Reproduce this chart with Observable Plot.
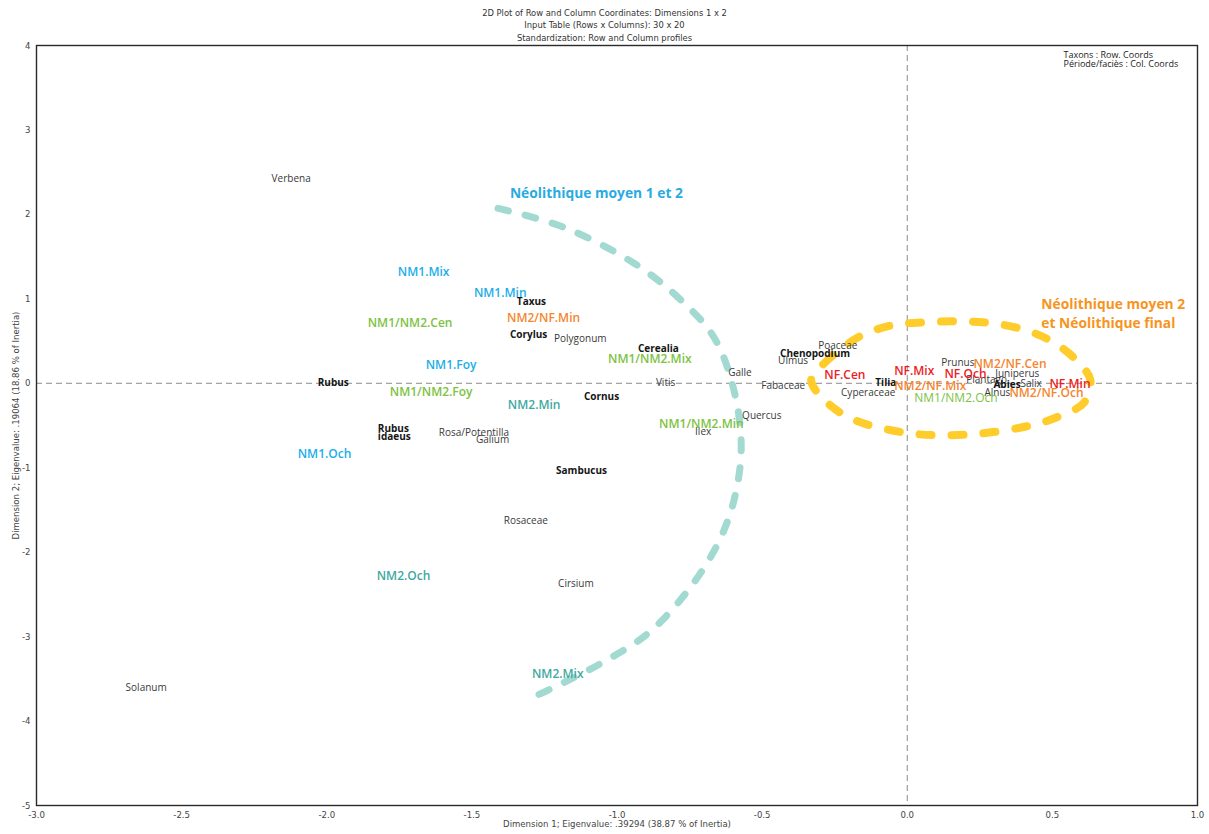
<!DOCTYPE html>
<html>
<head>
<meta charset="utf-8">
<script src="https://cdn.jsdelivr.net/npm/d3@7"></script>
<script src="https://cdn.jsdelivr.net/npm/@observablehq/plot@0.6"></script>
<style>
  html, body { margin: 0; padding: 0; background: #fff; }
  #title { position: relative; z-index: 2; height: 40px; padding-top: 6.5px; box-sizing: border-box;
    text-align: center; font-family: "Liberation Sans Narrow", "DejaVu Sans Condensed", sans-serif;
    font-size: 9.3px; line-height: 12.5px; color: #333; }
  #chart { position: relative; z-index: 1; }
</style>
</head>
<body>
<div id="title">
  <div>2D Plot of Row and Column Coordinates: Dimensions 1 x 2</div>
  <div>Input Table (Rows x Columns): 30 x 20</div>
  <div>Standardization: Row and Column profiles</div>
</div>
<div id="chart"></div>
<script>
// ---- Column coordinates (Période/faciès) ----
const colLabels = ["NM1.Mix","NM1.Min","NM1.Foy","NM1.Och",
  "NM1/NM2.Cen","NM1/NM2.Mix","NM1/NM2.Foy","NM1/NM2.Min","NM1/NM2.Och",
  "NM2.Min","NM2.Och","NM2.Mix",
  "NM2/NF.Min","NM2/NF.Cen","NM2/NF.Mix","NM2/NF.Och",
  "NF.Cen","NF.Mix","NF.Och","NF.Min"];
const colGroups = ["NM1","NM1","NM1","NM1",
  "NM1/NM2","NM1/NM2","NM1/NM2","NM1/NM2","NM1/NM2",
  "NM2","NM2","NM2",
  "NM2/NF","NM2/NF","NM2/NF","NM2/NF",
  "NF","NF","NF","NF"];
const colDim1 = [-1.755,-1.493,-1.659,-2.100,
  -1.859,-1.031,-1.783,-0.855,0.024,
  -1.376,-1.828,-1.293,
  -1.379,0.228,-0.045,0.352,
  -0.286,-0.045,0.128,0.490];
const colDim2 = [1.315,1.066,0.213,-0.841,
  0.711,0.284,-0.107,-0.486,-0.178,
  -0.261,-2.286,-3.446,
  0.770,0.225,-0.036,-0.118,
  0.095,0.142,0.107,-0.012];
const lightCols = ["NM1/NM2.Och"];

// ---- Row coordinates (Taxons) ----
const rowLabels = ["Taxus","Corylus","Cerealia","Rubus","Cornus","Rubus\nidaeus","Sambucus","Chenopodium","Tilia","Abies",
  "Verbena","Polygonum","Vitis","Galle","Quercus","Ilex","Rosa/Potentilla","Galium","Rosaceae","Cirsium",
  "Solanum","Poaceae","Ulmus","Fabaceae","Cyperaceae","Prunus","Plantago","Juniperus","Salix","Alnus"];
const rowDim1 = [-1.345,-1.369,-0.928,-2.031,-1.114,-1.824,-1.210,-0.438,-0.110,0.297,
  -2.190,-1.217,-0.866,-0.617,-0.569,-0.731,-1.614,-1.486,-1.390,-1.203,
  -2.693,-0.307,-0.445,-0.503,-0.228,0.117,0.203,0.303,0.390,0.266];
const rowDim2 = [0.959,0.568,0.403,0.000,-0.166,-0.598,-1.042,0.343,0.000,-0.024,
  2.416,0.521,0.000,0.130,-0.391,-0.580,-0.592,-0.675,-1.634,-2.369,
  -3.612,0.438,0.272,-0.024,-0.118,0.237,0.036,0.107,-0.012,-0.118];
const boldTaxa = ["Taxus","Corylus","Cerealia","Rubus","Cornus","Rubus\nidaeus","Sambucus","Chenopodium","Tilia","Abies"];

// ---- Group outlines (hand-drawn annotations) ----
const arcDim1 = [-1.410,-1.183,-0.941,-0.790,-0.666,-0.597,-0.572,-0.597,-0.652,-0.755,-0.893,-1.055,-1.217,-1.297];
const arcDim2 = [2.072,1.847,1.421,1.018,0.545,-0.083,-0.758,-1.386,-1.895,-2.451,-2.961,-3.316,-3.600,-3.730];
const ellDim1 = [-0.331,-0.286,-0.169,-0.052,0.062,0.179,0.293,0.410,0.503,0.583,0.631,0.607,0.538,0.455,0.224,-0.017,-0.228];
const ellDim2 = [0.036,0.237,0.545,0.687,0.722,0.734,0.711,0.628,0.486,0.272,0.036,-0.237,-0.367,-0.474,-0.604,-0.580,-0.355];
const noteTexts = ["Néolithique moyen 1 et 2", "Néolithique moyen 2\net Néolithique final"];
const noteDim1 = [-1.369, 0.462];
const noteDim2 = [2.250, 0.835];

// ---- Axes ----
const xTicks = [-3,-2.5,-2,-1.5,-1,-0.5,0,0.5,1];
const yTicks = [4,3,2,1,0,-1,-2,-3,-4,-5];
const xLabel = "Dimension 1; Eigenvalue: .39294 (38.87 % of Inertia)";
const yLabel = "Dimension 2; Eigenvalue: .19064 (18.86 % of Inertia)";
const legendText = "Taxons : Row. Coords\nPériode/faciès : Col. Coords";

const groupColors = {"NM1":"#1aaeea","NM1/NM2":"#7dc242","NM2":"#3fa99f","NM2/NF":"#f5862f","NF":"#ed1c24"};

const cols = colLabels.map((l,i) => ({label:l, group:colGroups[i], x:colDim1[i], y:colDim2[i]}));
const rows = rowLabels.map((l,i) => ({label:l, x:rowDim1[i], y:rowDim2[i], bold: boldTaxa.includes(l)}));
const arc = arcDim1.map((x,i) => ({x, y:arcDim2[i]}));
const ell = ellDim1.map((x,i) => ({x, y:ellDim2[i]}));
const notes = noteTexts.map((t,i) => ({text:t, x:noteDim1[i], y:noteDim2[i]}));

const labelFont = "'Open Sans', 'Noto Sans', sans-serif";
const axisFont = "'Liberation Sans Narrow', 'DejaVu Sans Condensed', sans-serif";

const chart = Plot.plot({
  width: 1209,
  height: 794,
  marginLeft: 36,
  marginRight: 12,
  marginTop: 5,
  marginBottom: 29,
  style: {overflow: "visible", fontFamily: axisFont, background: "transparent"},
  x: {domain: [-3, 1]},
  y: {domain: [-5, 4]},
  marks: [
    Plot.ruleX([0], {stroke: "#8a8a8a", strokeDasharray: "6,4", strokeWidth: 1}),
    Plot.ruleY([0], {stroke: "#8a8a8a", strokeDasharray: "6,4", strokeWidth: 1}),
    Plot.frame({stroke: "#2a2a2a", strokeWidth: 1.4}),
    Plot.axisX({ticks: xTicks, tickSize: 0, tickPadding: 6, tickFormat: d => d.toFixed(1), fontSize: 9.5,
      fill: "#444", label: xLabel, labelAnchor: "center", labelOffset: 21, labelArrow: "none"}),
    Plot.axisY({ticks: yTicks, tickSize: 0, tickPadding: 6, tickFormat: d => String(d), fontSize: 9.5,
      fill: "#444", label: yLabel, labelAnchor: "center", labelOffset: 24, labelArrow: "none"}),
    Plot.line(arc, {x: "x", y: "y", curve: "catmull-rom", stroke: "#a2dad1", strokeWidth: 7,
      strokeDasharray: "11,17", strokeLinecap: "round"}),
    Plot.line(ell, {x: "x", y: "y", curve: "catmull-rom-closed", stroke: "#ffcd2b", strokeWidth: 8,
      strokeDasharray: "12,20", strokeLinecap: "round"}),
    Plot.text(notes.slice(0,1), {x: "x", y: "y", text: "text", textAnchor: "start", fontSize: 13.8,
      fontWeight: 700, fill: "#29abe2", fontFamily: labelFont}),
    Plot.text(notes.slice(1), {x: "x", y: "y", text: "text", textAnchor: "start", fontSize: 13.8,
      fontWeight: 700, fill: "#f7941d", fontFamily: labelFont, lineHeight: 1.38}),
    Plot.text(rows.filter(d => !d.bold), {x: "x", y: "y", text: "label", textAnchor: "start", fontSize: 10,
      fill: "#3a3a3a", fontFamily: labelFont}),
    Plot.text(rows.filter(d => d.bold), {x: "x", y: "y", text: "label", textAnchor: "start", fontSize: 10,
      fontWeight: 700, fill: "#151515", fontFamily: labelFont, lineHeight: 0.72}),
    Plot.text(cols.filter(d => !lightCols.includes(d.label)), {x: "x", y: "y", text: "label", textAnchor: "start",
      fontSize: 12, fontWeight: 600, fill: d => groupColors[d.group], fontFamily: labelFont}),
    Plot.text(cols.filter(d => lightCols.includes(d.label)), {x: "x", y: "y", text: "label", textAnchor: "start",
      fontSize: 12, fontWeight: 400, fill: d => groupColors[d.group], fontFamily: labelFont}),
    Plot.text([legendText], {frameAnchor: "top-right", textAnchor: "start", lineAnchor: "top", dx: -134, dy: 5.5,
      fontSize: 9, fill: "#222", fontFamily: labelFont, lineHeight: 1.05})
  ],
  color: {type: "identity"}
});
document.getElementById("chart").appendChild(chart);
</script>
</body>
</html>
